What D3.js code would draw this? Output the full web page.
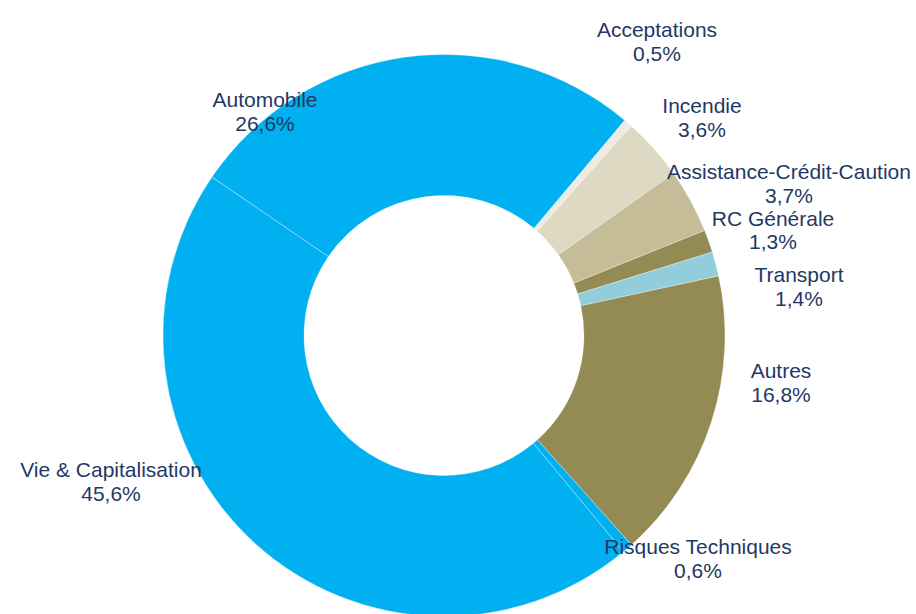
<!DOCTYPE html>
<html>
<head>
<meta charset="utf-8">
<script src="https://cdn.jsdelivr.net/npm/d3@7"></script>
<style>
  body { margin: 0; background: #fff; }
  text { font-family: "Liberation Sans", Arial, sans-serif; }
</style>
</head>
<body>
<svg id="chart"></svg>
<script>
// data, clockwise from the top right
const categories = ["Acceptations", "Incendie", "Assistance-Crédit-Caution", "RC Générale",
    "Transport", "Autres", "Risques Techniques", "Vie & Capitalisation", "Automobile"];
const shares = [0.5, 3.6, 3.7, 1.3, 1.4, 16.8, 0.6, 45.6, 26.6];
const shareLabels = ["0,5%", "3,6%", "3,7%", "1,3%", "1,4%", "16,8%", "0,6%", "45,6%", "26,6%"];

const colors = ["#eeece1", "#ddd9c3", "#c4bd97", "#948a54", "#92cddc", "#948a54",
    "#00b0f0", "#00b0f0", "#00b0f0"];

// where each label sits (centre x, first baseline), placed by hand like the original
const labelPos = [[657, 37], [702, 113], [789, 179], [773, 225.5], [799, 282],
    [781, 378], [698, 554], [111, 477], [265, 107]];

const width = 916, height = 614;
const cx = 444, cy = 335.5;
const outerR = 281, innerR = 140;

const svg = d3.select("#chart")
    .attr("width", width)
    .attr("height", height);

const data = categories.map((c, i) => ({ name: c, value: shares[i], label: shareLabels[i], i: i }));

const pie = d3.pie()
    .sort(null)
    .value(d => d.value)
    .startAngle(40 * Math.PI / 180)
    .endAngle(400 * Math.PI / 180);

const arc = d3.arc()
    .innerRadius(innerR)
    .outerRadius(outerR);

const g = svg.append("g")
    .attr("transform", `translate(${cx}, ${cy})`);

g.selectAll("path")
    .data(pie(data))
    .join("path")
    .attr("d", arc)
    .attr("fill", d => colors[d.data.i])
    .attr("stroke", "#ffffff")
    .attr("stroke-opacity", 0.45)
    .attr("stroke-width", 0.7);

// labels: name on top, percentage below
const labels = svg.append("g")
    .selectAll("g")
    .data(data)
    .join("g")
    .attr("transform", d => `translate(${labelPos[d.i][0]}, ${labelPos[d.i][1]}) scale(1.05, 1)`);

labels.append("text")
    .attr("text-anchor", "middle")
    .attr("font-size", "20px")
    .attr("fill", "#1f3864")
    .text(d => d.name);

labels.append("text")
    .attr("text-anchor", "middle")
    .attr("y", 24)
    .attr("font-size", "20px")
    .attr("fill", "#1f3864")
    .text(d => d.label);
</script>
</body>
</html>
